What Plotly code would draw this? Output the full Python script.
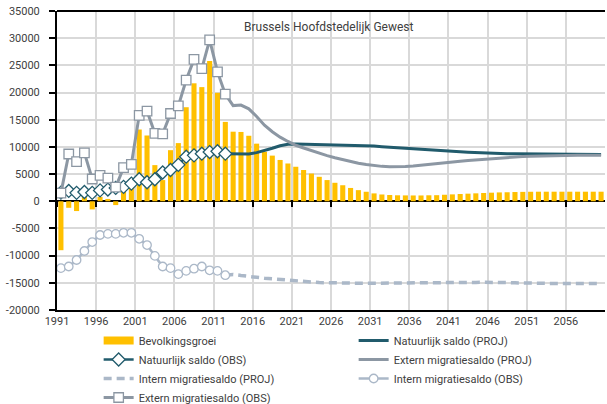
import plotly.graph_objects as go

# ---------------- data ----------------
years_all = list(range(1991, 2061))
years_obs = list(range(1991, 2013))
years_proj = list(range(2012, 2061))

bevolkingsgroei = [
    -9000, -1200, -1800, 2100, -1500, 800, 430, -700, 2500, 4200,
    13200, 12100, 6650, 3900, 9400, 10700, 17300, 21700, 21000, 25800,
    19950, 14600, 12800, 12750, 12050, 10600, 9100, 8400, 7600, 6950,
    6350, 5750, 5100, 4500, 3900, 3400, 2950, 2450, 2050, 1750,
    1450, 1250, 1150, 1100, 1080, 1070, 1070, 1100, 1120, 1200,
    1270, 1340, 1400, 1460, 1520, 1580, 1630, 1660, 1700, 1730,
    1750, 1760, 1760, 1760, 1760, 1760, 1760, 1760, 1760, 1760,
]

natuurlijk_obs = [
    1600, 1900, 1550, 1700, 1550, 2000, 2150, 2450, 2650, 3250,
    4050, 3500, 4050, 5300, 5750, 6700, 8200, 8450, 8750, 9050,
    9200, 8750,
]

natuurlijk_proj = [
    8750, 8700, 8650, 8700, 8950, 9300, 9750, 10200, 10500, 10550,
    10520, 10480, 10450, 10420, 10400, 10370, 10330, 10280, 10220, 10150,
    10050, 9950, 9850, 9700, 9580, 9500, 9400, 9320, 9250, 9180,
    9100, 9030, 8950, 8900, 8850, 8800, 8760, 8730, 8710, 8700,
    8690, 8680, 8670, 8660, 8650, 8640, 8630, 8620, 8620,
]

extern_obs = [
    1500, 8700, 7300, 8900, 4100, 4750, 4250, 2600, 6200, 6800,
    15800, 16600, 12500, 12400, 16150, 17550, 22300, 26100, 24400, 29700,
    23800, 19700,
]

extern_proj = [
    19700, 17600, 17700, 17000, 15600, 14000, 12800, 11800, 11000, 10300,
    9800, 9300, 8850, 8400, 8000, 7650, 7300, 7000, 6750, 6550,
    6420, 6350, 6340, 6400, 6500, 6620, 6750, 6900, 7050, 7200,
    7350, 7500, 7620, 7750, 7850, 7950, 8050, 8150, 8230, 8300,
    8350, 8400, 8430, 8450, 8460, 8470, 8470, 8470, 8470,
]

intern_obs = [
    -12300, -12000, -10800, -9150, -7500, -6200, -6000, -6000, -5800, -5800,
    -6900, -8050, -10050, -12000, -12300, -13400, -12800, -12400, -12000, -12700,
    -12800, -13600,
]

intern_proj = [
    -13600, -13450, -13650, -13850, -14000, -14150, -14250, -14400, -14500, -14650,
    -14750, -14850, -14950, -15000, -15050, -15080, -15080, -15080, -15080, -15080,
    -15080, -15080, -15080, -15080, -15080, -15080, -15050, -15000, -14970, -14950,
    -14950, -14930, -14920, -14900, -14880, -14900, -14950, -15000, -15050, -15080,
    -15100, -15130, -15130, -15130, -15130, -15130, -15130, -15130, -15130,
]

tick_years = list(range(1991, 2057, 5))
y_ticks = list(range(-20000, 35001, 5000))
y_ticklabels = [str(v) for v in y_ticks]
title_text = "Brussels Hoofdstedelijk Gewest"

# ---------------- styling ----------------
FONT = "Roboto, Lato, sans-serif"
TXT = "#404040"
GOLD = "#FFC000"
TEAL = "#215B6C"
GREY = "#8C97A3"
LIGHT = "#ABB8C8"
GRID = "#D9D9D9"


def ctr(years):
    return [y + 0.5 for y in years]


fig = go.Figure()

fig.add_trace(go.Bar(
    x=ctr(years_all), y=bevolkingsgroei, name="Bevolkingsgroei",
    marker=dict(color=GOLD, line=dict(width=0)), width=0.65,
    showlegend=False,
))
# legend entry for the bars (wide gold swatch)
fig.add_trace(go.Scatter(
    x=[None], y=[None], name="Bevolkingsgroei", mode="lines",
    line=dict(color=GOLD, width=8), legendrank=1, hoverinfo="skip",
))

fig.add_trace(go.Scatter(
    x=ctr(years_proj), y=natuurlijk_proj, name="Natuurlijk saldo (PROJ)",
    mode="lines", line=dict(color=TEAL, width=3), legendrank=2,
))
fig.add_trace(go.Scatter(
    x=ctr(years_proj), y=extern_proj, name="Extern migratiesaldo (PROJ)",
    mode="lines", line=dict(color=GREY, width=3), legendrank=4,
))
fig.add_trace(go.Scatter(
    x=ctr(years_proj), y=intern_proj, name="Intern migratiesaldo (PROJ)",
    mode="lines", line=dict(color=LIGHT, width=3.5, dash="8px,5px"), legendrank=5,
))
fig.add_trace(go.Scatter(
    x=ctr(years_obs), y=intern_obs, name="Intern migratiesaldo (OBS)",
    mode="lines+markers", line=dict(color=LIGHT, width=2.5),
    marker=dict(symbol="circle", size=8.5, color="white", line=dict(color=LIGHT, width=1.3)),
    legendrank=6,
))
fig.add_trace(go.Scatter(
    x=ctr(years_obs), y=natuurlijk_obs, name="Natuurlijk saldo (OBS)",
    mode="lines+markers", line=dict(color=TEAL, width=2.5),
    marker=dict(symbol="diamond", size=10, color="white", line=dict(color=TEAL, width=1.3)),
    legendrank=3,
))
fig.add_trace(go.Scatter(
    x=ctr(years_obs), y=extern_obs, name="Extern migratiesaldo (OBS)",
    mode="lines+markers", line=dict(color=GREY, width=3),
    marker=dict(symbol="square", size=9.5, color="white", line=dict(color=GREY, width=1.3)),
    legendrank=7,
))
# helper trace so the zero-line tick axis is rendered
fig.add_trace(go.Scatter(x=[], y=[], xaxis="x2", showlegend=False, hoverinfo="skip"))

fig.update_layout(
    width=607, height=404,
    margin=dict(l=57, r=2, t=11, b=94, autoexpand=False),
    paper_bgcolor="white", plot_bgcolor="white",
    font=dict(family=FONT, size=11, color=TXT),
    barmode="overlay",
    showlegend=True,
    legend=dict(
        orientation="h", x=0.076, xanchor="left", y=-0.0535, yanchor="top",
        entrywidth=210, entrywidthmode="pixels",
        font=dict(family=FONT, size=11, color=TXT),
        bgcolor="rgba(0,0,0,0)", tracegroupgap=0,
        itemwidth=30,
    ),
    xaxis=dict(
        range=[1991, 2061], tickmode="array", tickvals=tick_years,
        ticktext=[str(y) for y in tick_years],
        showgrid=True, gridcolor=GRID, gridwidth=1.5,
        showline=True, linecolor="black", linewidth=2, mirror=False,
        ticks="", zeroline=False,
        tickfont=dict(family=FONT, size=11, color=TXT),
    ),
    xaxis2=dict(
        overlaying="x", matches="x", anchor="free", position=20000 / 55000,
        range=[1991, 2061], tickmode="array", tickvals=tick_years,
        showticklabels=False, ticks="outside", ticklen=5, tickwidth=1.5,
        tickcolor="black", showgrid=False, showline=False, zeroline=False,
        side="bottom",
    ),
    yaxis=dict(
        range=[-20000, 35000], tickmode="array", tickvals=y_ticks,
        ticktext=y_ticklabels,
        showgrid=True, gridcolor=GRID, gridwidth=1.5,
        showline=True, linecolor="black", linewidth=2,
        ticks="outside", ticklen=6, tickcolor="black", tickwidth=1.5,
        ticklabelstandoff=7,
        zeroline=True, zerolinecolor="black", zerolinewidth=2,
        tickfont=dict(family=FONT, size=11, color=TXT),
    ),
    shapes=[dict(type="line", xref="paper", yref="paper", x0=0, x1=1, y0=1, y1=1,
                 line=dict(color="black", width=2))],
    annotations=[dict(
        text=title_text, xref="paper", yref="paper", x=0.496, y=0.945,
        xanchor="center", yanchor="middle", showarrow=False,
        font=dict(family=FONT, size=12, color=TXT),
    )],
)

fig.write_html("out.html", config={"displayModeBar": False},
               post_script="document.body.style.margin='0';")
